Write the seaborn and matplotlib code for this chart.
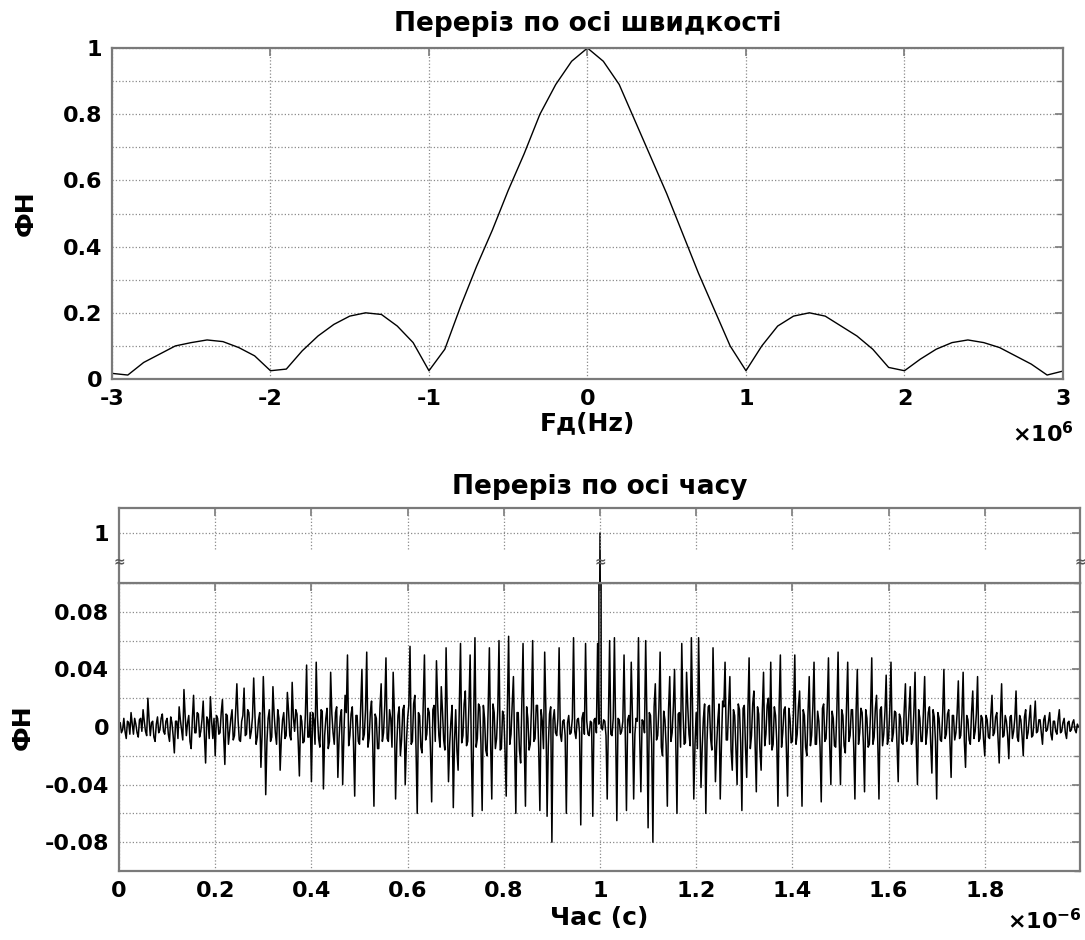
import numpy as np
import matplotlib
matplotlib.use('Agg')
import matplotlib.pyplot as plt
from matplotlib.ticker import MultipleLocator, FuncFormatter
import seaborn as sns

# --- top panel: cut along velocity axis (x in units of 1e6 Hz) ---
fd = np.round(np.arange(-30, 31) / 10, 1)
fn_fd = [0.017, 0.012, 0.05, 0.075, 0.10, 0.11, 0.118, 0.113, 0.095, 0.07,
         0.025, 0.03, 0.085, 0.13, 0.165, 0.19, 0.20, 0.195, 0.16, 0.11,
         0.025, 0.09, 0.22, 0.34, 0.45, 0.57, 0.68, 0.80, 0.89, 0.96,
         1.00,
         0.96, 0.89, 0.78, 0.67, 0.56, 0.44, 0.32, 0.21, 0.10, 0.025,
         0.10, 0.16, 0.19, 0.20, 0.19, 0.16, 0.13, 0.09, 0.035, 0.025,
         0.06, 0.09, 0.11, 0.118, 0.11, 0.095, 0.07, 0.045, 0.012, 0.024]

# --- bottom panel: cut along time axis (t in units of 1e-6 s), values x1e-3 ---
# one row per 0.1 us
fn_t_milli = [
    [0, 3, -4, -2, 6, -3, -8, 4, 3, -5, 10, 2, -5, 6, 2, -4, -7, 5, 6, -3,
     12, 4, -3, -6, 20, 5, -6, 3, 4, -7, -10, 2, 7, -4, -2, 6, 9, -3, -5, 4],
    [6, -5, -10, 7, 3, -6, -18, 4, 4, -8, 14, 5, -2, -9, 26, 8, -6, 3, 8, -10,
     -15, 6, 22, -4, -4, 10, 9, -7, -3, 5, 18, -6, -25, 7, 5, -8, 21, 4, -8, 6],
    [-20, 8, 6, -5, -4, 10, 19, -6, -26, 9, 8, -12, -3, 6, 12, -9, -6, 11, 30, 5,
     -9, -10, 4, 8, 27, -6, -5, 12, 10, -8, -3, 7, 34, 9, -12, -7, 5, 10, -28, -5],
    [35, 8, -47, -10, 6, 12, -10, -7, 28, 9, -4, -12, 12, 6, -30, -8, 5, 10, -8, -6,
     24, 11, -6, -9, 31, 7, -3, 12, 9, -10, -34, 8, 4, -11, -10, 9, 43, -7, -7, 10],
    [-38, 10, 5, -12, 45, 8, -8, -14, 12, 11, -43, -6, 6, 13, -15, -10, 38, 9, -4, -12,
     10, 14, -35, -8, 7, 12, -40, -6, 22, 10, 50, -13, -6, 9, 14, -12, -48, 8, 8, -10],
    [-12, 14, 40, -9, -5, 12, 52, -14, -8, 10, 18, -12, -55, 9, 6, -15, -15, 13, 30, -10,
     -4, 15, 48, -8, -10, 12, 6, -14, 38, 10, -50, -12, 8, 14, -20, -9, 12, 15, -40, -11],
    [6, 15, 56, -12, -10, 16, 22, -15, -60, 10, 8, -14, -18, 16, 50, -9, -5, 13, 10, -16,
     -52, 12, 15, -10, 46, 16, -6, -14, 28, 11, -9, -16, 55, 9, -38, -12, 4, 15, -56, -10],
    [12, -16, -30, 14, 58, -11, -6, 16, 25, -13, -10, 15, 50, -16, -62, 10, 62, -14, -8, 16,
     14, -12, -58, 15, 6, -16, -20, 13, 55, -10, -50, 16, 10, -15, -8, 12, 60, -16, -15, 11],
    [8, -16, -48, 14, 63, -12, -5, 16, 35, -14, -60, 10, 10, -16, -25, 15, 58, -11, -55, 14,
     6, -16, -12, 13, 60, -10, -8, 15, 15, -14, -58, 12, 4, -15, 52, 11, -62, -13, 9, 14],
    [-80, 5, 12, -4, -6, 6, 55, -5, -10, 4, 5, -6, -60, 3, 8, -5, -4, 6, 62, -3,
     -8, 5, 6, -4, -68, 6, 10, -5, 58, 4, -5, -6, 4, 3, -62, 5, 6, -4, 58, 2],
    [1000, 0, -2, 5, 4, -6, -50, 4, 60, -5, -6, 6, 62, -4, -65, 6, 5, -5, -3, 4,
     50, -6, -58, 5, 8, -4, 45, 6, -50, -5, 6, 4, 62, -6, -45, 5, 4, -4, 60, 6],
    [-70, 10, 8, -12, -80, 14, 30, -9, -6, 13, 52, -14, -20, 11, 5, -13, -55, 12, 35, -10,
     -4, 14, 40, -12, -60, 9, 10, -14, 58, 12, -12, -11, 38, 14, -5, -13, 62, 10, -50, -12],
    [10, -15, 62, 12, -42, -14, 6, 16, -60, -10, 14, 15, -8, -16, 55, 11, -38, -13, 5, 16,
     -50, -12, 18, 14, 45, -9, -9, 15, 35, -16, -30, 12, 8, -14, -40, 16, 12, -11, -58, 13],
    [15, -14, -35, 12, 48, -15, -6, 16, 25, -12, -45, 14, 9, -16, -30, 11, 38, -13, -5, 15,
     20, -12, 45, -16, -12, 14, 8, -10, -55, 15, 50, -14, -4, 12, 14, -15, -48, 13, 6, -11],
    [-10, 13, 50, -12, -5, 14, 25, -11, -55, 12, 8, -14, -20, 10, 35, -13, -6, 14, 45, -12,
     -12, 11, 4, -14, -52, 13, 16, -10, -8, 14, 48, -12, -40, 11, 6, -13, -14, 12, 52, -10],
    [-40, 12, 8, -13, -18, 14, 45, -10, -6, 12, 12, -14, -50, 11, 40, -12, -4, 13, 10, -11,
     -45, 12, 6, -14, -12, 10, 48, -12, -7, 13, 22, -10, -50, 12, 14, -13, -5, 11, 36, -12],
    [-8, 12, 45, -10, -4, 11, 10, -12, -38, 9, 6, -11, -12, 12, 30, -10, -5, 11, 28, -12,
     -9, 10, 38, -11, -40, 12, 6, -10, -10, 11, 35, -12, -4, 10, 14, -11, -32, 12, 7, -10],
    [-50, 10, 6, -9, -10, 10, 40, -8, -5, 9, 12, -10, -35, 8, 8, -9, -4, 10, 32, -8,
     -6, 9, 38, -10, -28, 8, 5, -9, -12, 10, 25, -8, -3, 9, 35, -10, -8, 8, 6, -9],
    [-20, 8, 5, -7, -8, 8, 22, -6, -4, 7, 10, -8, -25, 6, 30, -7, -6, 8, 4, -6,
     -22, 7, 8, -8, -3, 6, 25, -7, -10, 8, 5, -6, -20, 7, 12, -8, -4, 6, 15, -7],
    [-6, 5, 18, -4, -3, 5, 5, -4, -12, 5, 8, -3, -2, 4, 10, -5, -9, 4, 4, -3,
     -5, 5, 12, -4, -3, 3, 6, -4, -8, 3, 4, -3, -2, 3, 5, -2, -4, 2, 0, 0],
]
fn_t = np.array(fn_t_milli, dtype=float).ravel() / 1000
t = np.arange(len(fn_t)) * 0.0025

sns.set_theme(style='white')
plt.rcParams['font.family'] = ['DejaVu Sans']
plt.rcParams['font.weight'] = 'bold'
plt.rcParams['text.color'] = 'black'
plt.rcParams['axes.labelcolor'] = 'black'
plt.rcParams['axes.unicode_minus'] = False
plt.rcParams['mathtext.default'] = 'regular'

spine_col = '#7a7a7a'
grid_kw = dict(color='#8a8a8a', linestyle=':', linewidth=0.9)
fmt = FuncFormatter(lambda v, p: '%g' % round(v, 6))


def matlab_axes(ax):
    for s in ax.spines.values():
        s.set_color(spine_col)
        s.set_linewidth(1.6)
        s.set_visible(True)
    ax.tick_params(which='both', direction='in', top=True, right=True,
                   colors=spine_col, labelcolor='black', labelsize=16, pad=7)
    ax.tick_params(which='major', length=6, width=1.2)
    ax.tick_params(which='minor', length=4, width=1.0)


fig = plt.figure(figsize=(10.85, 9.4), dpi=100)

# top plot
ax1 = fig.add_axes([0.1032, 0.5968, 0.8765, 0.3521])
sns.lineplot(x=fd, y=fn_fd, ax=ax1, color='black', linewidth=1.0, estimator=None, sort=False)
ax1.set_xlim(-3, 3)
ax1.set_ylim(0, 1)
ax1.xaxis.set_major_locator(MultipleLocator(1))
ax1.yaxis.set_major_locator(MultipleLocator(0.2))
ax1.yaxis.set_minor_locator(MultipleLocator(0.1))
ax1.xaxis.set_major_formatter(fmt)
ax1.yaxis.set_major_formatter(fmt)
ax1.grid(True, which='major', axis='x', **grid_kw)
ax1.grid(True, which='both', axis='y', **grid_kw)
matlab_axes(ax1)
ax1.set_title('Переріз по осі швидкості', fontsize=19, fontweight='bold', pad=12)
ax1.set_xlabel('Fд(Hz)', fontsize=18, fontweight='bold', labelpad=2)
ax1.set_ylabel('ФН', fontsize=18, fontweight='bold')
ax1.yaxis.set_label_coords(-0.078, 0.5)
fig.text(0.990, 0.530, r'$\times10^{6}$', fontsize=16, ha='right', va='baseline')

# bottom plot (broken y axis)
ax_lo = fig.add_axes([0.1097, 0.0734, 0.8857, 0.3064])
ax_up = fig.add_axes([0.1097, 0.3798, 0.8857, 0.0798], sharex=ax_lo)
for ax in (ax_lo, ax_up):
    sns.lineplot(x=t, y=fn_t, ax=ax, color='black', linewidth=1.1, estimator=None, sort=False)
    ax.set_xlim(0, 1.998)
    ax.xaxis.set_major_locator(MultipleLocator(0.2))
    ax.xaxis.set_major_formatter(fmt)
    matlab_axes(ax)
    ax.set_ylabel('')
    ax.set_xlabel('')

ax_lo.set_ylim(-0.1, 0.1)
ax_lo.yaxis.set_major_locator(MultipleLocator(0.04))
ax_lo.yaxis.set_minor_locator(MultipleLocator(0.02))
ax_lo.yaxis.set_major_formatter(fmt)
ax_lo.grid(True, which='major', axis='x', **grid_kw)
ax_lo.grid(True, which='both', axis='y', **grid_kw)
ax_lo.set_xlabel('Час (с)', fontsize=18, fontweight='bold', labelpad=4)
ax_lo.set_ylabel('ФН', fontsize=18, fontweight='bold')
ax_lo.yaxis.set_label_coords(-0.088, 0.5)

ax_up.set_ylim(0.8, 1.1)
ax_up.set_yticks([1])
ax_up.yaxis.set_major_formatter(fmt)
ax_up.tick_params(axis='x', labelbottom=False)
ax_up.grid(True, which='major', axis='y', **grid_kw)
for xv in np.arange(0.2, 1.99, 0.2):
    ax_up.axvline(xv, ymin=0.45, ymax=1, **grid_kw)
for xv in (0, 1.0, 1.998):
    ax_up.text(xv, 0.885, '≈', fontsize=10, color='#555555', ha='center', va='center',
               clip_on=False, fontweight='bold')
ax_up.set_title('Переріз по осі часу', fontsize=19, fontweight='bold', pad=10)
fig.text(0.997, 0.012, r'$\times10^{-6}$', fontsize=16, ha='right', va='baseline')

fig.savefig('out.png', dpi=100)
